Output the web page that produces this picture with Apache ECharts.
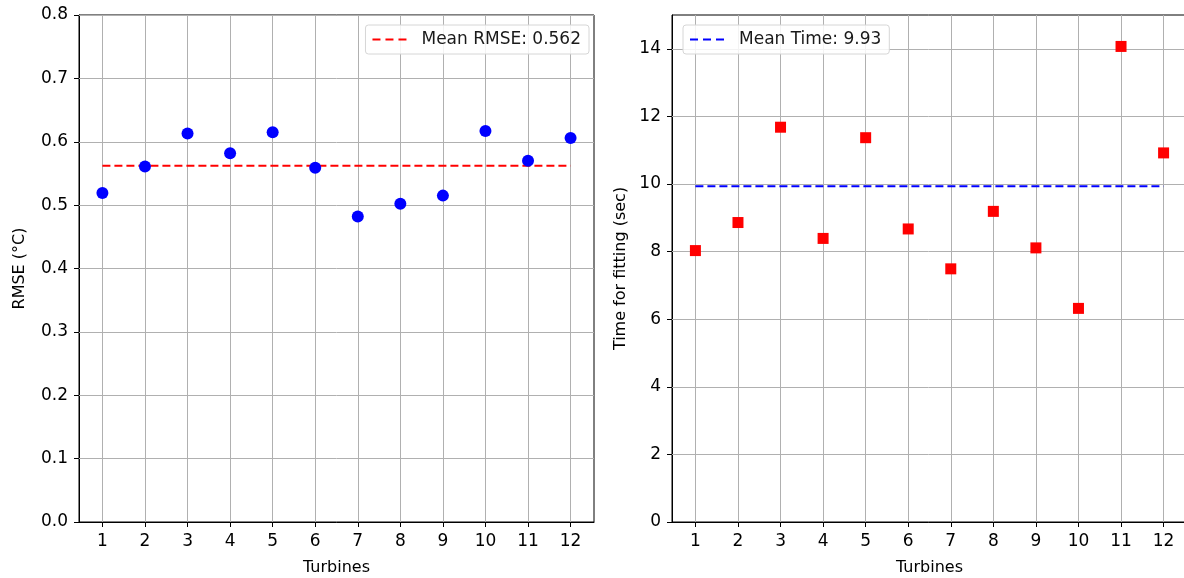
<!DOCTYPE html>
<html>
<head>
<meta charset="utf-8">
<script src="https://cdn.jsdelivr.net/npm/echarts@6/dist/echarts.min.js"></script>
<style>
  html, body { margin: 0; padding: 0; background: #fff; }
  #chart { width: 1184px; height: 578px; }
</style>
</head>
<body>
<div id="chart"></div>
<script>
// Turbine ids along the x axis
const turbines = [1, 2, 3, 4, 5, 6, 7, 8, 9, 10, 11, 12];
// Fit error per turbine (°C)
const rmse = [0.519, 0.561, 0.613, 0.582, 0.615, 0.559, 0.482, 0.502, 0.515, 0.617, 0.570, 0.606];
// Fit duration per turbine (seconds)
const fitTime = [8.03, 8.86, 11.68, 8.39, 11.37, 8.67, 7.49, 9.19, 8.11, 6.32, 14.07, 10.92];
// Reported means
const meanRmse = 0.562;
const meanTime = 9.93;
// Tick values
const rmseTicks = [0, 0.1, 0.2, 0.3, 0.4, 0.5, 0.6, 0.7, 0.8];
const timeTicks = [0, 2, 4, 6, 8, 10, 12, 14];

const FONT = 'DejaVu Sans';
const FS = 17;
const GRID_GREY = '#b0b0b0';
const pad = 0.55;
// three short dashes used as the legend key
const DASH_ICON = 'path://M0,0h8v2h-8z M13,0h8v2h-8z M26,0h8v2h-8z';

function xAxisFor(gridIndex) {
  return {
    type: 'value', gridIndex,
    min: turbines[0] - pad, max: turbines[turbines.length - 1] + pad,
    name: 'Turbines', nameLocation: 'middle', nameGap: 38,
    nameTextStyle: { fontFamily: FONT, fontSize: FS - 1, color: '#000' },
    axisLine: { show: true, onZero: false, lineStyle: { color: '#000', width: 1 } },
    axisTick: { show: true, length: 5, customValues: turbines, lineStyle: { color: '#000' } },
    axisLabel: { customValues: turbines, margin: 11, fontFamily: FONT, fontSize: FS, color: '#000' },
    splitLine: { show: false }
  };
}

function yAxisFor(gridIndex, ticks, max, name, fmt, gap) {
  return {
    type: 'value', gridIndex, min: 0, max,
    name, nameLocation: 'middle', nameGap: gap,
    nameTextStyle: { fontFamily: FONT, fontSize: FS - 1, color: '#000' },
    axisLine: { show: true, lineStyle: { color: '#000', width: 1 } },
    axisTick: { show: true, length: 5, customValues: ticks, lineStyle: { color: '#000' } },
    axisLabel: { customValues: ticks, margin: 11, fontFamily: FONT, fontSize: FS, color: '#000', formatter: fmt },
    splitLine: { show: false }
  };
}

// Grid lines drawn under the marks
function gridLines(xi, ticks) {
  return {
    type: 'line', xAxisIndex: xi, yAxisIndex: xi, data: [], z: 1, silent: true,
    markLine: {
      silent: true, symbol: 'none', animation: false, z: 1,
      label: { show: false },
      emphasis: { disabled: true },
      lineStyle: { color: GRID_GREY, width: 1, type: 'solid' },
      data: turbines.map(t => ({ xAxis: t })).concat(ticks.slice(1).map(v => ({ yAxis: v })))
    }
  };
}

const legendBase = {
  orient: 'vertical', top: 25, itemWidth: 34, itemHeight: 14, itemGap: 4,
  icon: DASH_ICON,
  padding: [6, 8, 6, 7],
  backgroundColor: 'rgba(255,255,255,0.85)', borderColor: '#d6d6d6', borderWidth: 1, borderRadius: 3,
  textStyle: { fontFamily: FONT, fontSize: FS, color: '#1a1a1a', padding: [0, 0, 0, 10] }
};

const gridBase = {
  top: 15, width: 515, height: 507, show: true, borderColor: '#000', borderWidth: 1,
  backgroundColor: 'transparent', containLabel: false, outerBoundsMode: 'none'
};

const chart = echarts.init(document.getElementById('chart'), null, { renderer: 'canvas' });
chart.setOption({
  animation: false,
  backgroundColor: '#fff',
  grid: [
    Object.assign({}, gridBase, { left: 79 }),
    Object.assign({}, gridBase, { left: 672 })
  ],
  xAxis: [xAxisFor(0), xAxisFor(1)],
  yAxis: [
    yAxisFor(0, rmseTicks, 0.8, 'RMSE (°C)', v => v.toFixed(1), 51),
    yAxisFor(1, timeTicks, 15, 'Time for fitting (sec)', v => String(v), 43)
  ],
  legend: [
    Object.assign({}, legendBase, { right: 1184 - 589, data: ['Mean RMSE: ' + meanRmse.toFixed(3)] }),
    Object.assign({}, legendBase, { left: 683, data: ['Mean Time: ' + meanTime.toFixed(2)] })
  ],
  series: [
    gridLines(0, rmseTicks),
    gridLines(1, timeTicks),
    {
      name: 'Mean RMSE: ' + meanRmse.toFixed(3), type: 'line', xAxisIndex: 0, yAxisIndex: 0, z: 3,
      symbol: 'none', showSymbol: false,
      lineStyle: { color: '#ff0000', width: 2, type: [8, 4] },
      itemStyle: { color: '#ff0000' },
      data: [[turbines[0], meanRmse], [turbines[turbines.length - 1], meanRmse]]
    },
    {
      name: 'RMSE', type: 'scatter', xAxisIndex: 0, yAxisIndex: 0, z: 4,
      symbol: 'circle', symbolSize: 12, itemStyle: { color: '#0000ff', opacity: 1 },
      data: turbines.map((t, i) => [t, rmse[i]])
    },
    {
      name: 'Mean Time: ' + meanTime.toFixed(2), type: 'line', xAxisIndex: 1, yAxisIndex: 1, z: 3,
      symbol: 'none', showSymbol: false,
      lineStyle: { color: '#0000ff', width: 2, type: [8, 4] },
      itemStyle: { color: '#0000ff' },
      data: [[turbines[0], meanTime], [turbines[turbines.length - 1], meanTime]]
    },
    {
      name: 'Time', type: 'scatter', xAxisIndex: 1, yAxisIndex: 1, z: 4,
      symbol: 'rect', symbolSize: 11, itemStyle: { color: '#ff0000', opacity: 1 },
      data: turbines.map((t, i) => [t, fitTime[i]])
    }
  ]
});
</script>
</body>
</html>
